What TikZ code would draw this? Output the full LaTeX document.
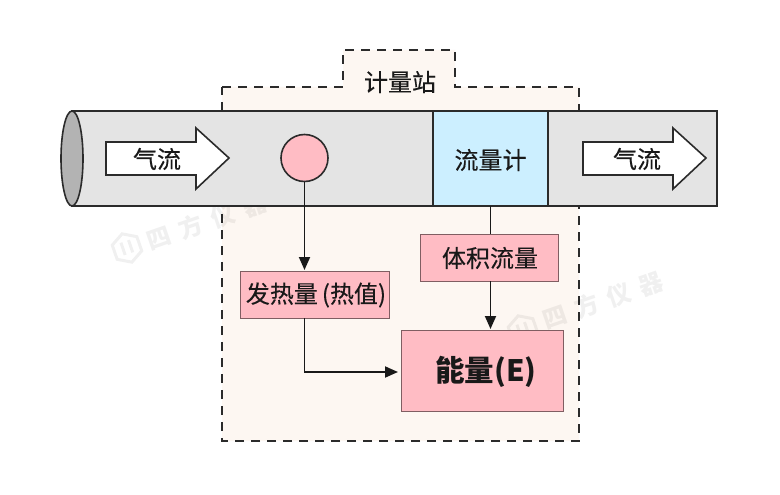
\documentclass[tikz,border=0pt]{standalone}
\usepackage{fontspec}
\setmainfont{Noto Sans CJK SC}
\usetikzlibrary{arrows.meta,shapes.geometric}
\definecolor{pipeg}{HTML}{E4E4E4}
\definecolor{capg}{HTML}{B3B3B3}
\definecolor{pinkb}{HTML}{FFBCC4}
\definecolor{blueb}{HTML}{CCEFFF}
\definecolor{stationb}{HTML}{FDF7F2}
\definecolor{linec}{HTML}{2B2B2B}
\tikzset{
  x=1pt,y=-1pt,
  lbl/.style={font=\fontsize{24}{26}\selectfont\addfontfeature{FakeBold=0.25},text=black!90,inner sep=0pt},
  pinkbox/.style={draw=black!50!pinkb,fill=pinkb,line width=1.2pt,inner sep=0pt,anchor=north west},
  conn/.style={draw=black!90,line width=1.8pt},
  arr/.style={conn,-{Triangle[length=13pt,width=11pt]}},
  outl/.style={draw=linec,line width=1.6pt},
  flow/.style={outl,fill=white,line join=miter},
  wmark/.style={text=black,opacity=.06,text opacity=.06,font=\fontsize{24}{26}\selectfont\bfseries\addfontfeature{LetterSpace=42},inner sep=0pt,rotate=19},
  wlogo/.style={draw=black,opacity=.06,line width=3pt}
}
\begin{document}
\begin{tikzpicture}
\useasboundingbox (0,0) rectangle (780,495);
\fill[white] (0,0) rectangle (780,495);
% station
\draw[fill=stationb,draw=linec,line width=1.6pt,dash pattern=on 9pt off 7pt]
  (222,87) -- (343,87) -- (343,50) -- (455,50) -- (455,87) -- (579,87) -- (579,441) -- (222,441) -- cycle;
\node[lbl] (station) at (400,82) {计量站};
% watermarks
\node[wmark] (wm1) at (207,221.5) {四方仪器};
\node[wmark] (wm2) at (603,300) {四方仪器};
\begin{scope}[rotate around={19:(127,248)}]
\draw[wlogo] (127,233) -- (140,240.5) -- (140,255.5) -- (127,263) -- (114,255.5) -- (114,240.5) -- cycle (123,241) -- (123,254) (131,241) -- (131,254);
\end{scope}
\begin{scope}[rotate around={19:(523,330)}]
\draw[wlogo] (523,315) -- (536,322.5) -- (536,337.5) -- (523,345) -- (510,337.5) -- (510,322.5) -- cycle (519,323) -- (519,336) (527,323) -- (527,336);
\end{scope}
% pipe
\draw[fill=pipeg,outl] (72,111) -- (717,111) -- (717,206) -- (72,206) -- cycle;
\node[outl,fill=capg,shape=ellipse,minimum width=22pt,minimum height=95pt,inner sep=0pt] (cap) at (72,158.5) {};
\draw[fill=blueb,outl] (433,111) rectangle (548,206);
\node[lbl] (fm) at (490.5,160) {流量计};
\coordinate (fmb) at (490.5,206);
% flows
\draw[flow] (106,142) -- (196,142) -- (196,128) -- (229,158) -- (196,189) -- (196,175) -- (106,175) -- cycle;
\node[lbl] (g1) at (157,159) {气流};
\draw[flow] (583,142) -- (673,142) -- (673,128) -- (706,158) -- (673,189) -- (673,175) -- (583,175) -- cycle;
\node[lbl] (g2) at (637,159) {气流};
% circle
\node[outl,fill=pinkb,circle,minimum size=47pt,inner sep=0pt] (c) at (304.5,158) {};
% boxes
\node[pinkbox,minimum width=149pt,minimum height=47pt] (heat) at (240,271) {};
\node[lbl] (heatl) at (316,295) {发热量\,(热值)};
\node[pinkbox,minimum width=138pt,minimum height=47pt] (vol) at (420,234) {};
\node[lbl] (voll) at (490,258) {体积流量};
\node[pinkbox,minimum width=162pt,minimum height=81pt] (en) at (401,330) {};
\node[font=\fontsize{29.5}{32}\selectfont\bfseries,text=black!90,inner sep=0pt] (enl) at (486,372) {能量(E)};
% connectors
\coordinate (ht) at (304.5,270);
\coordinate (hb) at (304.5,318);
\coordinate (vt) at (490.5,234);
\coordinate (vb) at (490.5,281);
\coordinate (et) at (490.5,329);
\coordinate (el) at (398,372);
\draw[arr] (c.south) -- (ht);
\draw[conn] (fmb) -- (vt);
\draw[arr] (vb) -- (et);
\draw[arr] (hb) |- (el);
\end{tikzpicture}
\end{document}
